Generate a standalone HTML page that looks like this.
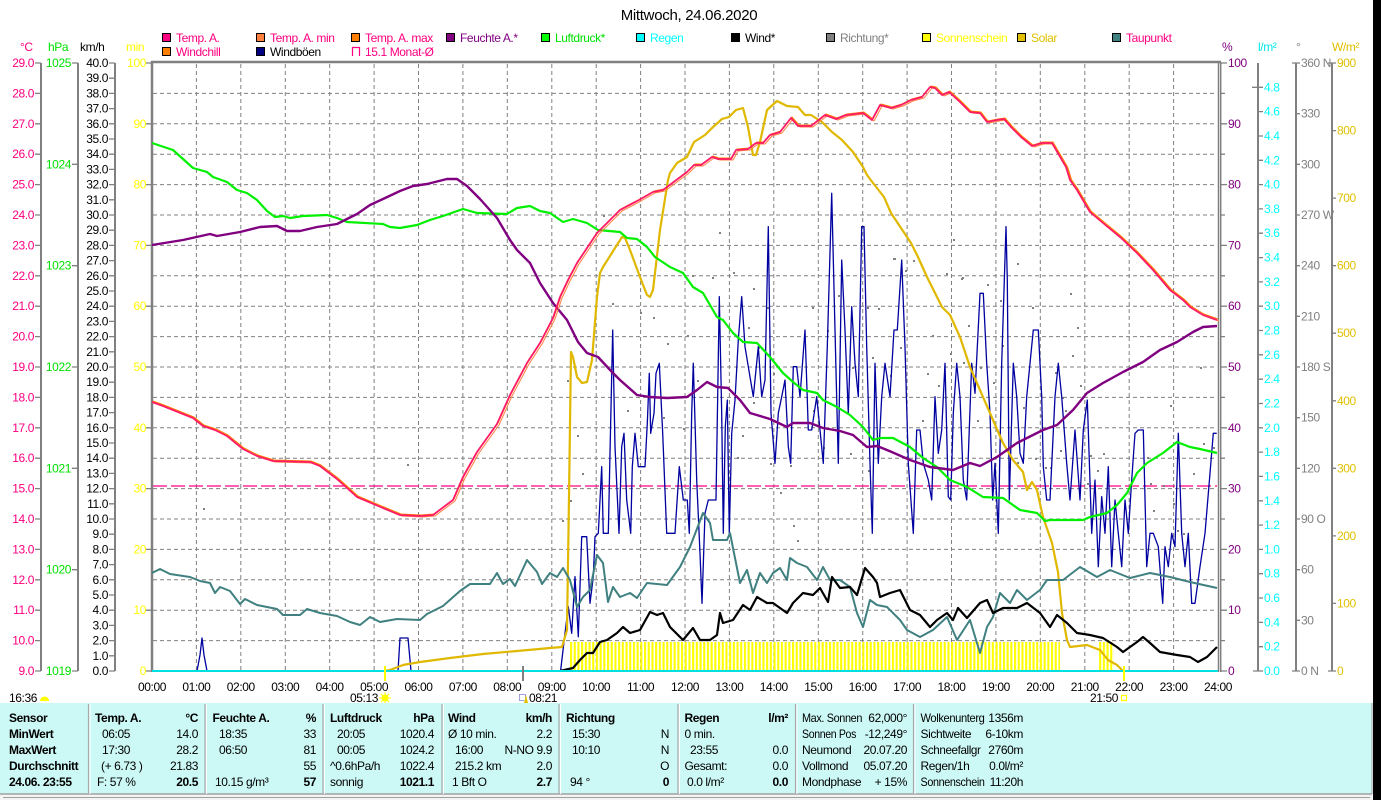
<!DOCTYPE html>
<html><head><meta charset="utf-8"><style>
html,body{margin:0;padding:0;background:#fff;}
svg{display:block;}
text{font-family:"Liberation Sans",sans-serif;font-size:12px;letter-spacing:-0.4px;}
.b{font-weight:bold;}
.e{text-anchor:end;}
.m{text-anchor:middle;}
</style></head><body>
<svg width="1381" height="800" viewBox="0 0 1381 800" xmlns="http://www.w3.org/2000/svg">
<defs>
<pattern id="sunp" x="570" y="0" width="3.7" height="40" patternUnits="userSpaceOnUse"><rect x="0" y="0" width="2.1" height="40" fill="#ffff00"/></pattern>
</defs>
<rect width="1381" height="800" fill="#fff"/>
<!-- title -->
<text x="689" y="20" class="m" style="font-size:15px;letter-spacing:-0.3px">Mittwoch, 24.06.2020</text>
<!-- legend -->
<g stroke="#000" stroke-width="1">
<rect x="162.5" y="33.5" width="8" height="8" fill="#ff0080"/>
<rect x="256.5" y="33.5" width="8" height="8" fill="#ff8040"/>
<rect x="351.5" y="33.5" width="8" height="8" fill="#ff8000"/>
<rect x="446.5" y="33.5" width="8" height="8" fill="#800080"/>
<rect x="541.5" y="33.5" width="8" height="8" fill="#00ff00"/>
<rect x="636.5" y="33.5" width="8" height="8" fill="#00ffff"/>
<rect x="731.5" y="33.5" width="8" height="8" fill="#000000"/>
<rect x="826.5" y="33.5" width="8" height="8" fill="#808080"/>
<rect x="922.5" y="33.5" width="8" height="8" fill="#ffff00"/>
<rect x="1017.5" y="33.5" width="8" height="8" fill="#e0c000"/>
<rect x="1112.5" y="33.5" width="8" height="8" fill="#408080"/>
<rect x="162.5" y="47.5" width="8" height="8" fill="#ff8000"/>
<rect x="256.5" y="47.5" width="8" height="8" fill="#000080"/>
</g>
<path d="M352.5 56 V47.5 H359.5 V56" fill="none" stroke="#ff0080" stroke-width="1.2"/>
<text x="176" y="42" fill="#ff0080">Temp. A.</text>
<text x="270" y="42" fill="#ff0080">Temp. A. min</text>
<text x="365" y="42" fill="#ff0080">Temp. A. max</text>
<text x="460" y="42" fill="#800080">Feuchte A.*</text>
<text x="555" y="42" fill="#00e000">Luftdruck*</text>
<text x="650" y="42" fill="#00ffff">Regen</text>
<text x="745" y="42" fill="#000">Wind*</text>
<text x="840" y="42" fill="#808080">Richtung*</text>
<text x="936" y="42" fill="#ffff00">Sonnenschein</text>
<text x="1031" y="42" fill="#e0c000">Solar</text>
<text x="1126" y="42" fill="#ff0080">Taupunkt</text>
<text x="176" y="56" fill="#ff0080">Windchill</text>
<text x="270" y="56" fill="#000">Windböen</text>
<text x="365" y="56" fill="#ff0080">15.1 Monat-Ø</text>
<!-- units -->
<text x="20" y="51" fill="#ff0080">°C</text>
<text x="48" y="51" fill="#00e000">hPa</text>
<text x="80" y="51" fill="#000">km/h</text>
<text x="126" y="51" fill="#ffff00">min</text>
<text x="1222" y="51" fill="#800080">%</text>
<text x="1258" y="51" fill="#00e8e8">l/m²</text>
<text x="1296" y="51" fill="#808080">°</text>
<text x="1332" y="51" fill="#e0c000">W/m²</text>

<!-- left axes lines -->
<g stroke="#808080" stroke-width="2" fill="none">
<line x1="41" y1="63" x2="41" y2="671"/>
<line x1="78" y1="63" x2="78" y2="671"/>
<line x1="115" y1="63" x2="115" y2="671"/>
<line x1="1258" y1="63" x2="1258" y2="671"/>
<line x1="1296" y1="63" x2="1296" y2="671"/>
<line x1="1332" y1="63" x2="1332" y2="671"/>
</g>
<!-- ticks -->
<g stroke="#808080" stroke-width="1.3">
<path d="M35 63H41M35 93.4H41M35 123.8H41M35 154.2H41M35 184.6H41M35 215H41M35 245.4H41M35 275.8H41M35 306.2H41M35 336.6H41M35 367H41M35 397.4H41M35 427.8H41M35 458.2H41M35 488.6H41M35 519H41M35 549.4H41M35 579.8H41M35 610.2H41M35 640.6H41M35 671H41"/>
<path d="M72 63H78M72 164.3H78M72 265.7H78M72 367H78M72 468.3H78M72 569.7H78M72 671H78"/>
<path d="M109 63H115M109 78.2H115M109 93.4H115M109 108.6H115M109 123.8H115M109 139H115M109 154.2H115M109 169.4H115M109 184.6H115M109 199.8H115M109 215H115M109 230.2H115M109 245.4H115M109 260.6H115M109 275.8H115M109 291H115M109 306.2H115M109 321.4H115M109 336.6H115M109 351.8H115M109 367H115M109 382.2H115M109 397.4H115M109 412.6H115M109 427.8H115M109 443H115M109 458.2H115M109 473.4H115M109 488.6H115M109 503.8H115M109 519H115M109 534.2H115M109 549.4H115M109 564.6H115M109 579.8H115M109 595H115M109 610.2H115M109 625.4H115M109 640.6H115M109 655.8H115M109 671H115"/>
<path d="M146 63H151M146 123.8H151M146 184.6H151M146 245.4H151M146 306.2H151M146 367H151M146 427.8H151M146 488.6H151M146 549.4H151M146 610.2H151M146 671H151"/>
<path d="M1221 63H1227M1221 93.4H1225M1221 123.8H1227M1221 154.2H1225M1221 184.6H1227M1221 215H1225M1221 245.4H1227M1221 275.8H1225M1221 306.2H1227M1221 336.6H1225M1221 367H1227M1221 397.4H1225M1221 427.8H1227M1221 458.2H1225M1221 488.6H1227M1221 519H1225M1221 549.4H1227M1221 579.8H1225M1221 610.2H1227M1221 640.6H1225M1221 671H1227"/>
<path d="M1252 87.3H1263M1258 111.6H1263M1258 136H1263M1258 160.3H1263M1258 184.6H1263M1258 208.9H1263M1258 233.2H1263M1258 257.6H1263M1258 281.9H1263M1258 306.2H1263M1258 330.5H1263M1258 354.8H1263M1258 379.2H1263M1258 403.5H1263M1258 427.8H1263M1258 452.1H1263M1258 476.4H1263M1258 500.8H1263M1258 525.1H1263M1258 549.4H1263M1258 573.7H1263M1258 598H1263M1258 622.4H1263M1258 646.7H1263M1253 671H1263"/>
<path d="M1292 63H1300M1296 113.7H1300M1296 164.3H1300M1296 215H1300M1296 265.7H1300M1296 316.3H1300M1296 367H1300M1296 417.7H1300M1296 468.3H1300M1296 519H1300M1296 569.7H1300M1296 620.3H1300M1292 671H1300"/>
<path d="M1328 63H1336M1332 130.6H1336M1332 198.1H1336M1332 265.7H1336M1332 333.2H1336M1332 400.8H1336M1332 468.3H1336M1332 535.9H1336M1332 603.4H1336M1328 671H1336"/>
</g>
<!-- left labels -->
<g fill="#ff0080" class="e">
<text x="34" y="67" class="e">29.0</text><text x="34" y="97.4" class="e">28.0</text><text x="34" y="127.8" class="e">27.0</text><text x="34" y="158.2" class="e">26.0</text><text x="34" y="188.6" class="e">25.0</text><text x="34" y="219" class="e">24.0</text><text x="34" y="249.4" class="e">23.0</text><text x="34" y="279.8" class="e">22.0</text><text x="34" y="310.2" class="e">21.0</text><text x="34" y="340.6" class="e">20.0</text><text x="34" y="371" class="e">19.0</text><text x="34" y="401.4" class="e">18.0</text><text x="34" y="431.8" class="e">17.0</text><text x="34" y="462.2" class="e">16.0</text><text x="34" y="492.6" class="e">15.0</text><text x="34" y="523" class="e">14.0</text><text x="34" y="553.4" class="e">13.0</text><text x="34" y="583.8" class="e">12.0</text><text x="34" y="614.2" class="e">11.0</text><text x="34" y="644.6" class="e">10.0</text><text x="34" y="675" class="e">9.0</text>
</g>
<g fill="#00e000">
<text x="71" y="67" class="e">1025</text><text x="71" y="168.3" class="e">1024</text><text x="71" y="269.7" class="e">1023</text><text x="71" y="371" class="e">1022</text><text x="71" y="472.3" class="e">1021</text><text x="71" y="573.7" class="e">1020</text><text x="71" y="675" class="e">1019</text>
</g>
<g fill="#000">
<text x="108" y="67" class="e">40.0</text><text x="108" y="82.2" class="e">39.0</text><text x="108" y="97.4" class="e">38.0</text><text x="108" y="112.6" class="e">37.0</text><text x="108" y="127.8" class="e">36.0</text><text x="108" y="143" class="e">35.0</text><text x="108" y="158.2" class="e">34.0</text><text x="108" y="173.4" class="e">33.0</text><text x="108" y="188.6" class="e">32.0</text><text x="108" y="203.8" class="e">31.0</text><text x="108" y="219" class="e">30.0</text><text x="108" y="234.2" class="e">29.0</text><text x="108" y="249.4" class="e">28.0</text><text x="108" y="264.6" class="e">27.0</text><text x="108" y="279.8" class="e">26.0</text><text x="108" y="295" class="e">25.0</text><text x="108" y="310.2" class="e">24.0</text><text x="108" y="325.4" class="e">23.0</text><text x="108" y="340.6" class="e">22.0</text><text x="108" y="355.8" class="e">21.0</text><text x="108" y="371" class="e">20.0</text><text x="108" y="386.2" class="e">19.0</text><text x="108" y="401.4" class="e">18.0</text><text x="108" y="416.6" class="e">17.0</text><text x="108" y="431.8" class="e">16.0</text><text x="108" y="447" class="e">15.0</text><text x="108" y="462.2" class="e">14.0</text><text x="108" y="477.4" class="e">13.0</text><text x="108" y="492.6" class="e">12.0</text><text x="108" y="507.8" class="e">11.0</text><text x="108" y="523" class="e">10.0</text><text x="108" y="538.2" class="e">9.0</text><text x="108" y="553.4" class="e">8.0</text><text x="108" y="568.6" class="e">7.0</text><text x="108" y="583.8" class="e">6.0</text><text x="108" y="599" class="e">5.0</text><text x="108" y="614.2" class="e">4.0</text><text x="108" y="629.4" class="e">3.0</text><text x="108" y="644.6" class="e">2.0</text><text x="108" y="659.8" class="e">1.0</text><text x="108" y="675" class="e">0.0</text>
</g>
<g fill="#ffff00">
<text x="146" y="67" class="e">100</text><text x="146" y="127.8" class="e">90</text><text x="146" y="188.6" class="e">80</text><text x="146" y="249.4" class="e">70</text><text x="146" y="310.2" class="e">60</text><text x="146" y="371" class="e">50</text><text x="146" y="431.8" class="e">40</text><text x="146" y="492.6" class="e">30</text><text x="146" y="553.4" class="e">20</text><text x="146" y="614.2" class="e">10</text><text x="146" y="675" class="e">0</text>
</g>
<!-- right labels -->
<g fill="#800080">
<text x="1228" y="67">100</text><text x="1228" y="127.8">90</text><text x="1228" y="188.6">80</text><text x="1228" y="249.4">70</text><text x="1228" y="310.2">60</text><text x="1228" y="371">50</text><text x="1228" y="431.8">40</text><text x="1228" y="492.6">30</text><text x="1228" y="553.4">20</text><text x="1228" y="614.2">10</text><text x="1228" y="675">0</text>
</g>
<g fill="#00ffff">
<text x="1264" y="91.3">4.8</text><text x="1264" y="115.6">4.6</text><text x="1264" y="140">4.4</text><text x="1264" y="164.3">4.2</text><text x="1264" y="188.6">4.0</text><text x="1264" y="212.9">3.8</text><text x="1264" y="237.2">3.6</text><text x="1264" y="261.6">3.4</text><text x="1264" y="285.9">3.2</text><text x="1264" y="310.2">3.0</text><text x="1264" y="334.5">2.8</text><text x="1264" y="358.8">2.6</text><text x="1264" y="383.2">2.4</text><text x="1264" y="407.5">2.2</text><text x="1264" y="431.8">2.0</text><text x="1264" y="456.1">1.8</text><text x="1264" y="480.4">1.6</text><text x="1264" y="504.8">1.4</text><text x="1264" y="529.1">1.2</text><text x="1264" y="553.4">1.0</text><text x="1264" y="577.7">0.8</text><text x="1264" y="602">0.6</text><text x="1264" y="626.4">0.4</text><text x="1264" y="650.7">0.2</text><text x="1264" y="675">0.0</text>
</g>
<g fill="#808080">
<text x="1301" y="67">360 N</text><text x="1301" y="117.7">330</text><text x="1301" y="168.3">300</text><text x="1301" y="219">270 W</text><text x="1301" y="269.7">240</text><text x="1301" y="320.3">210</text><text x="1301" y="371">180 S</text><text x="1301" y="421.7">150</text><text x="1301" y="472.3">120</text><text x="1301" y="523">90 O</text><text x="1301" y="573.7">60</text><text x="1301" y="624.3">30</text><text x="1301" y="675">0 N</text>
</g>
<g fill="#e0c000">
<text x="1337" y="67">900</text><text x="1337" y="134.6">800</text><text x="1337" y="202.1">700</text><text x="1337" y="269.7">600</text><text x="1337" y="337.2">500</text><text x="1337" y="404.8">400</text><text x="1337" y="472.3">300</text><text x="1337" y="539.9">200</text><text x="1337" y="607.4">100</text><text x="1337" y="675">0</text>
</g>

<!-- grid -->
<g stroke="#808080" stroke-width="1" stroke-dasharray="4 3" fill="none">
<path d="M153 93.4H1217M153 123.8H1217M153 154.2H1217M153 184.6H1217M153 215H1217M153 245.4H1217M153 275.8H1217M153 306.2H1217M153 336.6H1217M153 367H1217M153 397.4H1217M153 427.8H1217M153 458.2H1217M153 488.6H1217M153 519H1217M153 549.4H1217M153 579.8H1217M153 610.2H1217M153 640.6H1217"/>
<path d="M196.4 64V673M240.8 64V673M285.3 64V673M329.7 64V673M374.1 64V673M418.5 64V673M462.9 64V673M507.3 64V673M551.8 64V673M596.2 64V673M640.6 64V673M685 64V673M729.4 64V673M773.8 64V673M818.3 64V673M862.7 64V673M907.1 64V673M951.5 64V673M995.9 64V673M1040.3 64V673M1084.8 64V673M1129.2 64V673M1173.6 64V673"/>
</g>
<!-- frame -->
<g stroke="#808080" fill="none">
<line x1="152" y1="61" x2="152" y2="672" stroke-width="2.5"/>
<line x1="151" y1="62" x2="1221" y2="62" stroke-width="2.5"/>
<line x1="1218.5" y1="62" x2="1218.5" y2="672" stroke-width="1.5"/>
<line x1="1220.7" y1="62" x2="1220.7" y2="672" stroke-width="1.5"/>
</g>
<!-- monat line -->
<line x1="153" y1="486" x2="1217" y2="486" stroke="#ff0080" stroke-width="1.2" stroke-dasharray="14 4"/>
<!-- sunshine bars -->
<rect x="570" y="642" width="490" height="29" fill="url(#sunp)"/>
<rect x="1099" y="642" width="15" height="29" fill="url(#sunp)"/>
<!-- direction dots -->
<g fill="#808080">
<rect x="603" y="215" width="2" height="2"/><rect x="719" y="232" width="2" height="2"/><rect x="733" y="272" width="2" height="2"/><rect x="753" y="288" width="2" height="2"/><rect x="712" y="277" width="2" height="2"/><rect x="640" y="312" width="2" height="2"/><rect x="612" y="303" width="2" height="2"/><rect x="653" y="317" width="2" height="2"/><rect x="577" y="435" width="2" height="2"/><rect x="582" y="473" width="2" height="2"/><rect x="567" y="380" width="2" height="2"/><rect x="667" y="343" width="2" height="2"/><rect x="687" y="335" width="2" height="2"/><rect x="697" y="380" width="2" height="2"/><rect x="627" y="410" width="2" height="2"/><rect x="663" y="417" width="2" height="2"/><rect x="683" y="428" width="2" height="2"/><rect x="742" y="435" width="2" height="2"/><rect x="748" y="327" width="2" height="2"/><rect x="753" y="402" width="2" height="2"/><rect x="758" y="347" width="2" height="2"/><rect x="767" y="307" width="2" height="2"/><rect x="773" y="373" width="2" height="2"/><rect x="793" y="525" width="2" height="2"/><rect x="797" y="540" width="2" height="2"/><rect x="780" y="492" width="2" height="2"/><rect x="737" y="457" width="2" height="2"/><rect x="770" y="463" width="2" height="2"/><rect x="790" y="465" width="2" height="2"/><rect x="812" y="307" width="2" height="2"/><rect x="827" y="330" width="2" height="2"/><rect x="838" y="295" width="2" height="2"/><rect x="852" y="367" width="2" height="2"/><rect x="867" y="307" width="2" height="2"/><rect x="868" y="470" width="2" height="2"/><rect x="850" y="453" width="2" height="2"/><rect x="823" y="447" width="2" height="2"/><rect x="793" y="382" width="2" height="2"/><rect x="813" y="410" width="2" height="2"/><rect x="562" y="520" width="2" height="2"/><rect x="570" y="500" width="2" height="2"/>
<rect x="893" y="258" width="2" height="2"/><rect x="905" y="270" width="2" height="2"/><rect x="913" y="260" width="2" height="2"/><rect x="932" y="335" width="2" height="2"/><rect x="946" y="273" width="2" height="2"/><rect x="953" y="239" width="2" height="2"/><rect x="962" y="277" width="2" height="2"/><rect x="987" y="284" width="2" height="2"/><rect x="968" y="325" width="2" height="2"/><rect x="1000" y="300" width="2" height="2"/><rect x="1017" y="263" width="2" height="2"/><rect x="1032" y="307" width="2" height="2"/><rect x="1070" y="293" width="2" height="2"/><rect x="1077" y="327" width="2" height="2"/><rect x="1002" y="345" width="2" height="2"/><rect x="1007" y="450" width="2" height="2"/><rect x="1017" y="462" width="2" height="2"/><rect x="1035" y="458" width="2" height="2"/><rect x="1050" y="467" width="2" height="2"/><rect x="1055" y="372" width="2" height="2"/><rect x="1062" y="397" width="2" height="2"/><rect x="1065" y="410" width="2" height="2"/><rect x="1080" y="385" width="2" height="2"/><rect x="1090" y="455" width="2" height="2"/><rect x="1097" y="470" width="2" height="2"/><rect x="1103" y="453" width="2" height="2"/><rect x="1147" y="457" width="2" height="2"/><rect x="1150" y="483" width="2" height="2"/><rect x="1163" y="485" width="2" height="2"/><rect x="1170" y="405" width="2" height="2"/><rect x="1173" y="503" width="2" height="2"/><rect x="1193" y="473" width="2" height="2"/><rect x="1200" y="367" width="2" height="2"/><rect x="1203" y="443" width="2" height="2"/><rect x="1213" y="447" width="2" height="2"/><rect x="872" y="357" width="2" height="2"/><rect x="878" y="308" width="2" height="2"/><rect x="890" y="375" width="2" height="2"/><rect x="900" y="347" width="2" height="2"/><rect x="922" y="420" width="2" height="2"/><rect x="927" y="373" width="2" height="2"/><rect x="938" y="385" width="2" height="2"/><rect x="950" y="353" width="2" height="2"/><rect x="963" y="362" width="2" height="2"/><rect x="977" y="420" width="2" height="2"/><rect x="980" y="367" width="2" height="2"/><rect x="993" y="382" width="2" height="2"/><rect x="1023" y="407" width="2" height="2"/><rect x="1040" y="415" width="2" height="2"/><rect x="1045" y="467" width="2" height="2"/><rect x="1060" y="450" width="2" height="2"/><rect x="1072" y="355" width="2" height="2"/><rect x="1087" y="483" width="2" height="2"/><rect x="1153" y="510" width="2" height="2"/><rect x="1177" y="530" width="2" height="2"/><rect x="1183" y="533" width="2" height="2"/>
<rect x="692" y="275" width="2" height="2"/><rect x="894" y="258" width="2" height="2"/><rect x="961" y="278" width="2" height="2"/><rect x="407" y="464" width="2" height="2"/><rect x="203" y="508" width="2" height="2"/>
</g>
<!-- series -->
<g fill="none" stroke-linejoin="round">
<!-- gusts -->
<polyline stroke="#0000a0" stroke-width="1.3" points="152,671 197,671 200,655 202,638 204,655 207,671 398,671 400,638 408,638 411,671 560,671 560.7,670 565,633.3 568.3,606.7 571.7,633.3 575,576.7 578.3,636.7 581.7,536.7 586.7,536.7 590,603.3 593.3,576.7 595,536.7 598.3,533.3 601.7,466.7 603.3,533.3 608.3,533.3 610,453.3 612.7,330 615,446.7 619,533.3 621.7,446.7 624,433.3 626.7,500 630.7,533.3 632.3,466.7 635,433.3 638.3,466.7 645,466.7 647.3,423.3 649.3,373.3 650.7,433.3 654,413.3 656,373.3 659.3,363.3 662.7,433.3 666.7,533.3 675,533.3 679.3,466.7 683.3,500 687.3,500 689.3,533.3 691.7,413.3 693.3,363.3 696.7,480 700,553.3 702,603.3 705,513.3 708.3,500 716,500 719.3,296.7 721.7,413.3 723.3,533.3 725.3,426.7 727.3,400 729.3,533.3 731.7,433.3 735,400 738.3,340 741.7,296.7 745,346.7 748.3,366.7 753.3,396.7 758.3,346.7 761.7,396.7 765,380 768.3,226.7 771,413.3 775,463.3 778.3,413.3 781.7,396.7 785,380 788.3,446.7 790.7,463.3 793.3,366.7 796.7,366.7 800,396.7 805,330 808.3,430 811.7,430 816.7,396.7 820,430 823.3,463.3 827.3,346.7 831.7,193.3 835,330 838.3,463.3 841.7,260 845,330 848.3,413.3 851.7,306.7 855,363.3 858.3,396.7 861.7,226.7 864,226.7 866.7,346.7 870,463.3 872.3,533.3 875,363.3 878.3,463.3 881.7,396.7 885,363.3 890,396.7 894,330 897.3,330 901.7,260 905,346.7 908.3,463.3 913.3,533.3 916.7,430 920,430 923.3,463.3 928.3,480 931.7,500 935,396.7 938.3,453.3 941.7,430 945,363.3 948.3,496.7 950.7,500 953.3,413.3 956.7,363.3 960,396.7 963.3,480 966.7,500 971.7,363.3 975,393.3 980,293.3 983.3,293.3 986.7,363.3 990,413.3 992.7,500 995,463.3 998.3,533.3 1001.7,363.3 1006,226.7 1007.3,280 1009.3,500 1013.3,363.3 1016.7,396.7 1020,453.3 1023.3,463.3 1026.7,396.7 1033.3,330 1038.3,330 1041.7,396.7 1043.3,466.7 1046.7,500 1050,500 1055,396.7 1058.3,363.3 1061.7,396.7 1066.7,463.3 1070,500 1075,430 1080,500 1083.3,430 1087.3,400 1091.7,533.3 1095,480 1098.3,566.7 1101.7,496.7 1105,533.3 1108.3,466.7 1111.7,566.7 1115,500 1118.3,533.3 1121.7,566.7 1125,500 1128.3,533.3 1131.7,480 1135,433.3 1138.3,430 1143.3,430 1146.7,566.7 1150,533.3 1153.3,533.3 1158.3,546.7 1162.7,603.3 1165,546.7 1168.3,566.7 1171.7,533.3 1175,546.7 1178.3,433.3 1181.7,533.3 1185,566.7 1188.3,533.3 1191.7,603.3 1195,603.3 1200,566.7 1205,533.3 1210,473.3 1213.3,433.3 1216.7,433.3"/>
<!-- solar -->
<polyline stroke="#e0b800" stroke-width="2.2" points="385,671 390,670 403,665 420,662 450,658 483,654 517,651 550,648 562,647 567,630 569,497 571,352 573,357 577,377 582,383 587,382 592,360 597,297 600,273 603,267 622,237 625,238 630,250 640,277 647,295 650,297 653,290 660,230 668,180 670,173 677,163 687,157 694,142 705,135 712,128 722,119 729,117 736,110 743,108 748,127 753,155 756,155 760,142 767,110 777,101 787,106 798,107 805,115 811,115 822,122 832,132 842,140 853,152 863,167 867,175 873,183 884,197 891,213 901,228 911,243 918,257 927,277 942,307 950,315 960,337 970,367 983,397 993,420 1003,443 1013,460 1023,472 1027,490 1032,482 1037,490 1043,517 1052,543 1058,572 1062,613 1067,640 1070,647 1087,645 1100,650 1108,660 1117,665 1123,671"/>
<!-- dew point -->
<polyline stroke="#408080" stroke-width="2" points="152,573 160,569 170,574 190,577 200,581 210,583 215,593 220,587 230,591 240,604 245,599 257,605 277,609 283,615 300,615 307,609 320,613 337,616 350,622 360,625 370,617 380,622 397,619 420,620 427,614 443,606 460,591 470,584 490,584 497,573 503,584 510,579 515,586 527,560 537,572 542,584 550,573 557,577 563,568 570,580 577,607 583,597 590,590 597,555 603,563 608,602 613,587 620,597 630,593 637,598 647,583 667,585 680,567 690,547 703,513 710,523 713,540 727,540 730,533 740,583 747,570 753,593 760,573 767,583 773,573 780,568 787,580 790,558 797,563 807,567 817,580 823,567 830,580 840,580 850,587 857,613 863,627 870,600 877,605 887,607 900,620 907,630 920,637 933,630 947,617 957,640 970,620 980,653 987,627 993,617 1000,593 1010,603 1017,590 1027,600 1040,590 1047,580 1063,580 1080,567 1097,577 1110,570 1130,578 1150,573 1170,577 1190,582 1217,588"/>
<!-- wind -->
<polyline stroke="#000" stroke-width="2.2" points="560,671 573,668 580,660 587,653 593,653 600,642 607,640 617,633 623,627 630,633 640,630 650,612 657,615 663,613 670,627 683,640 693,628 700,640 710,640 717,635 720,613 723,623 733,620 743,605 750,610 757,597 767,603 773,603 787,613 793,603 803,593 813,595 820,588 828,602 832,577 840,588 850,587 857,595 865,568 873,577 877,583 880,597 890,593 900,590 910,610 920,615 930,627 937,620 947,613 953,620 958,608 967,618 980,603 987,600 993,613 1003,608 1017,608 1027,603 1040,613 1050,627 1057,615 1067,623 1077,633 1090,635 1103,638 1117,647 1123,652 1137,642 1143,637 1150,643 1160,652 1177,655 1190,657 1198,662 1207,657 1217,647"/>
<!-- pressure -->
<polyline stroke="#00f000" stroke-width="2.2" points="152,143 173,150 183,159 193,168 207,172 213,177 227,182 237,190 247,193 257,200 267,211 275,217 283,216 290,218 303,216 327,215 337,218 347,222 383,224 390,227 400,228 417,225 430,220 443,216 463,209 477,213 507,214 517,208 530,206 540,211 550,213 563,222 573,219 587,223 598,230 620,232 627,238 637,239 647,247 655,257 670,267 683,273 693,287 703,293 717,317 723,320 733,333 743,342 757,343 770,357 783,373 793,382 803,390 817,393 823,400 837,407 850,415 863,427 873,440 880,438 893,438 910,447 923,458 937,467 950,480 967,487 983,497 1003,498 1020,510 1037,513 1045,521 1050,520 1083,520 1090,517 1107,513 1117,505 1127,493 1137,473 1147,463 1163,453 1177,442 1190,447 1200,449 1217,453"/>
<!-- humidity -->
<polyline stroke="#800080" stroke-width="2.4" points="152,245 183,240 210,234 217,236 240,232 260,227 277,226 287,231 300,231 317,227 337,224 357,214 370,205 383,199 400,191 413,186 427,184 447,179 457,179 467,186 480,199 497,218 510,240 517,250 530,263 540,283 553,303 567,320 578,342 587,353 598,357 612,372 620,380 637,395 650,397 667,398 687,397 697,390 707,382 717,387 728,388 740,400 750,413 770,419 787,427 793,423 810,423 823,428 840,431 853,435 867,447 877,446 887,450 910,460 930,467 953,470 970,463 980,466 997,457 1017,443 1043,430 1057,425 1073,410 1087,393 1103,383 1123,372 1143,362 1160,350 1177,342 1193,332 1203,327 1217,326"/>
</g>
<!-- temperature -->
<g fill="none" stroke-linejoin="round">
<polyline transform="translate(2,1)" stroke="#ff8040" stroke-width="1" points="152,402 163,406 183,414 193,418 203,426 215,430 227,436 243,449 257,456 273,461 310,462 320,466 337,479 357,497 383,508 400,515 420,516 433,515 453,500 463,477 477,452 497,424 510,395 527,363 540,343 553,318 560,297 568,280 577,263 587,248 597,233 608,222 620,210 639,200 653,192 663,190 687,172 694,165 701,165 712,157 718,159 731,159 736,150 748,149 756,143 763,143 770,135 780,132 791,118 798,126 811,126 825,115 836,119 846,115 863,113 872,120 880,105 891,108 901,105 911,100 922,97 930,87 935,88 942,95 949,92 960,102 970,112 980,113 987,122 997,120 1004,119 1011,127 1021,137 1032,146 1042,143 1052,143 1066,167 1070,180 1077,190 1087,207 1090,212 1103,223 1120,237 1137,253 1153,270 1170,290 1183,300 1190,307 1203,315 1217,320"/>
<polyline transform="translate(1,-1)" stroke="#ff8000" stroke-width="1" points="152,402 163,406 183,414 193,418 203,426 215,430 227,436 243,449 257,456 273,461 310,462 320,466 337,479 357,497 383,508 400,515 420,516 433,515 453,500 463,477 477,452 497,424 510,395 527,363 540,343 553,318 560,297 568,280 577,263 587,248 597,233 608,222 620,210 639,200 653,192 663,190 687,172 694,165 701,165 712,157 718,159 731,159 736,150 748,149 756,143 763,143 770,135 780,132 791,118 798,126 811,126 825,115 836,119 846,115 863,113 872,120 880,105 891,108 901,105 911,100 922,97 930,87 935,88 942,95 949,92 960,102 970,112 980,113 987,122 997,120 1004,119 1011,127 1021,137 1032,146 1042,143 1052,143 1066,167 1070,180 1077,190 1087,207 1090,212 1103,223 1120,237 1137,253 1153,270 1170,290 1183,300 1190,307 1203,315 1217,320"/>
<polyline stroke="#ff1a66" stroke-width="1.8" points="152,402 163,406 183,414 193,418 203,426 215,430 227,436 243,449 257,456 273,461 310,462 320,466 337,479 357,497 383,508 400,515 420,516 433,515 453,500 463,477 477,452 497,424 510,395 527,363 540,343 553,318 560,297 568,280 577,263 587,248 597,233 608,222 620,210 639,200 653,192 663,190 687,172 694,165 701,165 712,157 718,159 731,159 736,150 748,149 756,143 763,143 770,135 780,132 791,118 798,126 811,126 825,115 836,119 846,115 863,113 872,120 880,105 891,108 901,105 911,100 922,97 930,87 935,88 942,95 949,92 960,102 970,112 980,113 987,122 997,120 1004,119 1011,127 1021,137 1032,146 1042,143 1052,143 1066,167 1070,180 1077,190 1087,207 1090,212 1103,223 1120,237 1137,253 1153,270 1170,290 1183,300 1190,307 1203,315 1217,320"/>
</g>
<!-- rain baseline -->
<line x1="152" y1="671" x2="1218" y2="671" stroke="#00e0e0" stroke-width="2"/>
<!-- markers -->
<line x1="385" y1="666" x2="385" y2="681" stroke="#ffff00" stroke-width="2"/>
<line x1="523" y1="666" x2="523" y2="681" stroke="#808080" stroke-width="2"/>
<line x1="1124" y1="666" x2="1124" y2="681" stroke="#ffff00" stroke-width="2"/>
<!-- time labels -->
<g fill="#000">
<text x="152" y="691" class="m">00:00</text><text x="196.4" y="691" class="m">01:00</text><text x="240.8" y="691" class="m">02:00</text><text x="285.3" y="691" class="m">03:00</text><text x="329.7" y="691" class="m">04:00</text><text x="374.1" y="691" class="m">05:00</text><text x="418.5" y="691" class="m">06:00</text><text x="462.9" y="691" class="m">07:00</text><text x="507.3" y="691" class="m">08:00</text><text x="551.8" y="691" class="m">09:00</text><text x="596.2" y="691" class="m">10:00</text><text x="640.6" y="691" class="m">11:00</text><text x="685" y="691" class="m">12:00</text><text x="729.4" y="691" class="m">13:00</text><text x="773.8" y="691" class="m">14:00</text><text x="818.3" y="691" class="m">15:00</text><text x="862.7" y="691" class="m">16:00</text><text x="907.1" y="691" class="m">17:00</text><text x="951.5" y="691" class="m">18:00</text><text x="995.9" y="691" class="m">19:00</text><text x="1040.3" y="691" class="m">20:00</text><text x="1084.8" y="691" class="m">21:00</text><text x="1129.2" y="691" class="m">22:00</text><text x="1173.6" y="691" class="m">23:00</text><text x="1218" y="691" class="m">24:00</text>
<text x="9" y="702">16:36</text>
<text x="350" y="702">05:13</text>
<text x="529" y="702">08:21</text>
<text x="1090" y="702">21:50</text>
</g>
<path d="M40 701 A4.5 4.5 0 0 1 49 701 Z" fill="#ffff00"/>
<circle cx="385" cy="698" r="3.5" fill="#ffff00"/>
<g stroke="#ffff00" stroke-width="1"><path d="M379 698H391M385 692V704M381 694L389 702M389 694L381 702"/></g>
<rect x="519.5" y="694.5" width="6" height="6" fill="none" stroke="#4040c0" stroke-width="1" stroke-dasharray="1 1"/>
<path d="M524 703 L526 695 L528 703 Z" fill="#e0c000"/>
<rect x="1121.5" y="695.5" width="5" height="5" fill="none" stroke="#ffff00" stroke-width="1.2"/>

<!-- table -->
<rect x="0" y="703" width="1372" height="91" fill="#ccf8f6"/>
<line x1="0" y1="794" x2="1372" y2="794" stroke="#a0a0a0" stroke-width="1.5"/>
<rect x="0" y="795" width="1372" height="5" fill="#f4f4f4"/>
<path d="M3 797.5H1370" stroke="#a0a0a0" stroke-width="1"/>
<line x1="1372" y1="703" x2="1372" y2="794" stroke="#a0a0a0" stroke-width="1"/>
<g stroke="#a8a8a8" stroke-width="1.2">
<path d="M88.5 704V794M205 704V794M323 704V794M442 704V794M559 704V794M678 704V794M795.5 704V794M913.5 704V794"/>
</g>
<g stroke="#ffffff" stroke-width="1">
<path d="M90 704V794M206.5 704V794M324.5 704V794M443.5 704V794M560.5 704V794M679.5 704V794M797 704V794M915 704V794"/>
</g>
<rect x="1373" y="0" width="8" height="800" fill="#000"/>
<g fill="#000">
<text x="9" y="722" class="b">Sensor</text>
<text x="9" y="738" class="b">MinWert</text>
<text x="9" y="754" class="b">MaxWert</text>
<text x="9" y="770" class="b">Durchschnitt</text>
<text x="9" y="786" class="b">24.06. 23:55</text>

<text x="95" y="722" class="b">Temp. A.</text><text x="198" y="722" class="b e">°C</text>
<text x="102" y="738">06:05</text><text x="198" y="738" class="e">14.0</text>
<text x="102" y="754">17:30</text><text x="198" y="754" class="e">28.2</text>
<text x="101" y="770">(+ 6.73 )</text><text x="198" y="770" class="e">21.83</text>
<text x="97" y="786">F: 57 %</text><text x="198" y="786" class="b e">20.5</text>

<text x="212.5" y="722" class="b">Feuchte A.</text><text x="316" y="722" class="b e">%</text>
<text x="219" y="738">18:35</text><text x="316" y="738" class="e">33</text>
<text x="219" y="754">06:50</text><text x="316" y="754" class="e">81</text>
<text x="316" y="770" class="e">55</text>
<text x="215" y="786">10.15 g/m³</text><text x="316" y="786" class="b e">57</text>

<text x="330" y="722" class="b">Luftdruck</text><text x="434" y="722" class="b e">hPa</text>
<text x="337" y="738">20:05</text><text x="434" y="738" class="e">1020.4</text>
<text x="337" y="754">00:05</text><text x="434" y="754" class="e">1024.2</text>
<text x="330" y="770">^0.6hPa/h</text><text x="434" y="770" class="e">1022.4</text>
<text x="330" y="786">sonnig</text><text x="434" y="786" class="b e">1021.1</text>

<text x="448" y="722" class="b">Wind</text><text x="552" y="722" class="b e">km/h</text>
<text x="448" y="738">Ø 10 min.</text><text x="552" y="738" class="e">2.2</text>
<text x="455" y="754">16:00</text><text x="552" y="754" class="e">N-NO 9.9</text>
<text x="455" y="770">215.2 km</text><text x="552" y="770" class="e">2.0</text>
<text x="452" y="786">1 Bft O</text><text x="552" y="786" class="b e">2.7</text>

<text x="566" y="722" class="b">Richtung</text>
<text x="572" y="738">15:30</text><text x="669" y="738" class="e">N</text>
<text x="572" y="754">10:10</text><text x="669" y="754" class="e">N</text>
<text x="669" y="770" class="e">O</text>
<text x="570" y="786">94 °</text><text x="669" y="786" class="b e">0</text>

<text x="684.5" y="722" class="b">Regen</text><text x="788" y="722" class="b e">l/m²</text>
<text x="684.5" y="738">0 min.</text>
<text x="690" y="754">23:55</text><text x="788" y="754" class="e">0.0</text>
<text x="684.5" y="770">Gesamt:</text><text x="788" y="770" class="e">0.0</text>
<text x="687" y="786">0.0 l/m²</text><text x="788" y="786" class="b e">0.0</text>

<text x="802" y="722" textLength="60" lengthAdjust="spacingAndGlyphs">Max. Sonnen</text><text x="907" y="722" class="e">62,000°</text>
<text x="802" y="738" textLength="54" lengthAdjust="spacingAndGlyphs">Sonnen Pos</text><text x="907" y="738" class="e">-12,249°</text>
<text x="802" y="754">Neumond</text><text x="907" y="754" class="e">20.07.20</text>
<text x="802" y="770">Vollmond</text><text x="907" y="770" class="e">05.07.20</text>
<text x="802" y="786">Mondphase</text><text x="907" y="786" class="e">+ 15%</text>

<text x="920.5" y="722" textLength="64" lengthAdjust="spacingAndGlyphs">Wolkenunterg</text><text x="1023" y="722" class="e">1356m</text>
<text x="920.5" y="738">Sichtweite</text><text x="1023" y="738" class="e">6-10km</text>
<text x="920.5" y="754" textLength="60" lengthAdjust="spacingAndGlyphs">Schneefallgr</text><text x="1023" y="754" class="e">2760m</text>
<text x="920.5" y="770">Regen/1h</text><text x="1023" y="770" class="e">0.0l/m²</text>
<text x="920.5" y="786" textLength="64" lengthAdjust="spacingAndGlyphs">Sonnenschein</text><text x="1023" y="786" class="e">11:20h</text>
</g>
</svg>
</body></html>
